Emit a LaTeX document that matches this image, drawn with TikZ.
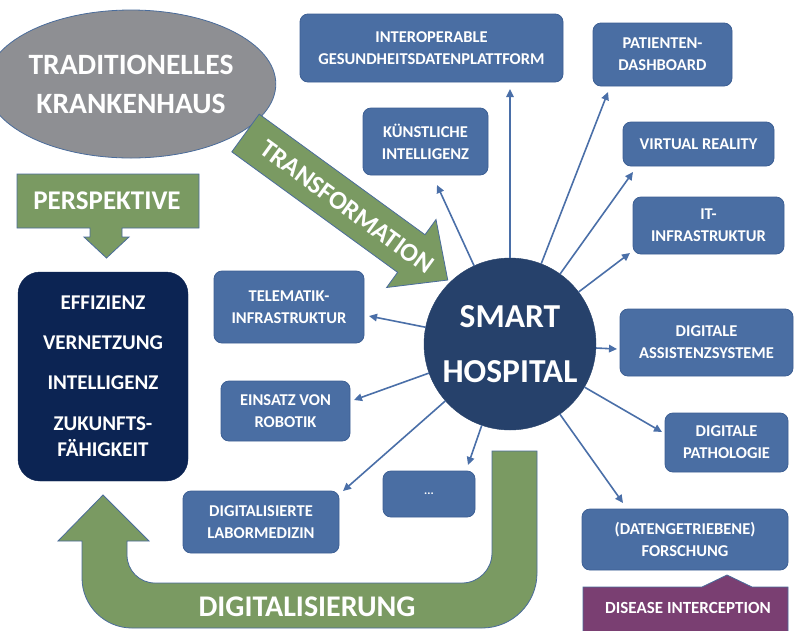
\documentclass[tikz,border=0pt]{standalone}
\usepackage{fontspec}
\setmainfont{Carlito}
\usetikzlibrary{arrows.meta,shapes.geometric,calc}
\definecolor{boxblue}{HTML}{4A6EA3}
\definecolor{boxborder}{HTML}{3C5F94}
\definecolor{arrowblue}{HTML}{4A6FA8}
\definecolor{gfill}{HTML}{7A9A62}
\definecolor{gborder}{HTML}{4A6C9B}
\definecolor{navy}{HTML}{0C2453}
\definecolor{hospblue}{HTML}{26416B}
\definecolor{grayell}{HTML}{8E8F93}
\definecolor{purplebox}{HTML}{7A3F72}
\begin{document}
\begin{tikzpicture}[x=1pt,y=-1pt,
  bbox/.style={draw=boxborder, line width=0.8pt, fill=boxblue, rounded corners=8pt,
    text=white, align=center, font=\bfseries\fontsize{16.5}{22}\selectfont, inner sep=0pt},
  conn/.style={draw=arrowblue, line width=1.6pt, -{Triangle[length=8pt,width=7.5pt]}},
  gshape/.style={fill=gfill, draw=gborder, line width=0.8pt},
  wtext/.style={text=white, align=center, inner sep=0pt}]
\useasboundingbox (0,0) rectangle (794,630);
\fill[white] (0,0) rectangle (794,630);

% ellipse
\node[ellipse, fill=grayell, draw=gborder, line width=0.8pt, minimum width=248pt, minimum height=148pt,
  wtext, font=\bfseries\fontsize{29.5}{39}\selectfont] (trad) at (131,84) {TRADITIONELLES\\KRANKENHAUS};

% perspektive arrow
\draw[gshape] (17,174) -- (199,174) -- (199,228) -- (122,228) -- (122,237) -- (129,237) -- (106.5,258)
  -- (84,237) -- (90,237) -- (90,228) -- (17,228) -- cycle;
\node[wtext, font=\bfseries\fontsize{27}{30}\selectfont] (persp) at (107,201) {PERSPEKTIVE};

% navy box
\node[fill=navy, draw=navy, rounded corners=22pt, minimum width=170pt, minimum height=209pt,
  wtext, font=\bfseries\fontsize{21}{26}\selectfont] (goals) at (103,376.5)
  {EFFIZIENZ\\[14pt]VERNETZUNG\\[14pt]INTELLIGENZ\\[15pt]ZUKUNFTS-\\FÄHIGKEIT};

% digitalisierung U-arrow
\draw[gshape] (103,495) -- (149,541) -- (127,541) -- (127,555)
  .. controls (127,570.5) and (139.5,583) .. (155,583) -- (462,583)
  .. controls (478.6,583) and (492,569.6) .. (492,553) -- (492,451) -- (537,451) -- (537,573)
  .. controls (537,603.4) and (512.4,628) .. (482,628) -- (132,628)
  .. controls (104.4,628) and (82,605.6) .. (82,578) -- (82,541) -- (58,541) -- cycle;
\node[wtext, font=\bfseries\fontsize{30}{32}\selectfont] (digi) at (307,607) {DIGITALISIERUNG};

% transformation arrow
\draw[gshape] (259.2,114.15) -- (425.0,234.7) -- (436.0,219.5) -- (447.75,280) -- (386.6,287.5)
  -- (397.6,272.35) -- (231.8,151.85) -- cycle;
\node[wtext, rotate=-36, font=\bfseries\fontsize{26}{30}\selectfont] (trans) at (347,207) {TRANSFORMATION};

% boxes
\node[bbox, minimum width=263pt, minimum height=68pt] (inter) at (431.5,48) {INTEROPERABLE\\GESUNDHEITSDATENPLATTFORM};
\node[bbox, minimum width=139pt, minimum height=63pt] (patient) at (662.5,54.5) {PATIENTEN-\\DASHBOARD};
\node[bbox, minimum width=125pt, minimum height=67pt] (ki) at (425.5,141.5) {KÜNSTLICHE\\INTELLIGENZ};
\node[bbox, minimum width=151pt, minimum height=44pt] (vr) at (698.5,144) {VIRTUAL REALITY};
\node[bbox, minimum width=151pt, minimum height=57pt] (it) at (708.5,225.5) {IT-\\INFRASTRUKTUR};
\node[bbox, minimum width=150pt, minimum height=72pt] (tele) at (289,307) {TELEMATIK-\\INFRASTRUKTUR};
\node[bbox, minimum width=129pt, minimum height=60pt] (robo) at (285.5,411) {EINSATZ VON\\ROBOTIK};
\node[bbox, minimum width=156pt, minimum height=62pt] (labor) at (261,522) {DIGITALISIERTE\\LABORMEDIZIN};
\node[bbox, minimum width=92pt, minimum height=46pt, font=\bfseries\fontsize{12}{13}\selectfont] (dots) at (429,494) {...};
\node[bbox, minimum width=173pt, minimum height=67pt] (assist) at (706.5,342.5) {DIGITALE\\ASSISTENZSYSTEME};
\node[bbox, minimum width=123pt, minimum height=59pt] (path) at (726.5,442.5) {DIGITALE\\PATHOLOGIE};
\node[bbox, minimum width=206pt, minimum height=61pt] (forsch) at (685,539.5) {(DATENGETRIEBENE)\\FORSCHUNG};

% disease interception
\draw[fill=purplebox, draw=gborder, line width=0.8pt] (583,632) -- (583,587) -- (702,587) -- (727,575)
  -- (752,587) -- (788,587) -- (788,632);
\node[wtext, font=\bfseries\fontsize{17}{18}\selectfont] (disease) at (688,608) {DISEASE INTERCEPTION};

% tips
\coordinate (tInter) at (510,89);
\coordinate (tPatient) at (608,92);
\coordinate (tKi) at (437,185);
\coordinate (tVr) at (633,172);
\coordinate (tIt) at (630,253);
\coordinate (tTele) at (369,316);
\coordinate (tRobo) at (354,400);
\coordinate (tLabor) at (343,491);
\coordinate (tDots) at (468,465);
\coordinate (tAssist) at (617,349);
\coordinate (tPath) at (662,432);
\coordinate (tForsch) at (623,503);

% hospital circle
\node[circle, fill=hospblue, draw=hospblue, minimum size=172pt, inner sep=0pt,
  wtext, font=\bfseries\fontsize{33.5}{55}\selectfont] (hosp) at (510,344) {SMART\\HOSPITAL};

\foreach \t in {tInter,tPatient,tKi,tVr,tIt,tTele,tRobo,tLabor,tDots,tAssist,tPath,tForsch}
  \draw[conn] (hosp) -- (\t);
\end{tikzpicture}
\end{document}
